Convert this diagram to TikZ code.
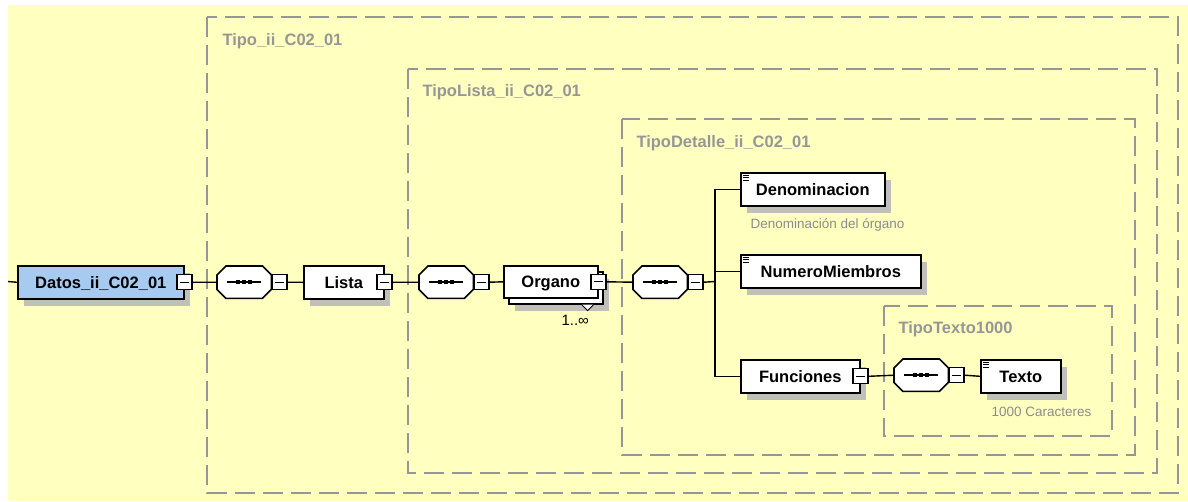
\documentclass[tikz,border=0pt]{standalone}
\usepackage{fontspec}
\setmainfont{Liberation Sans}
\usetikzlibrary{shadows,calc}

\definecolor{bgyellow}{RGB}{255,255,192}
\definecolor{boxblue}{RGB}{166,202,240}
\definecolor{dashgray}{RGB}{150,150,150}
\definecolor{shadowgray}{RGB}{192,192,184}
\definecolor{notegray}{RGB}{140,140,140}

\tikzset{
  shade box/.style={drop shadow={shadow xshift=6pt,shadow yshift=-7pt,fill=shadowgray,opacity=1}},
  box/.style={draw,line width=1.6pt,fill=white,rectangle,minimum height=33pt,anchor=north west,inner sep=0pt,
    text height=12pt,text depth=0pt,font=\fontsize{16.5}{18}\selectfont\bfseries},
  elem/.style={box,shade box},
  leaf/.style={elem,path picture={
      \foreach \k in {0,2.5,5}
        \draw[line width=0.9pt] ([xshift=2pt,yshift={-2.5pt-\k pt}]path picture bounding box.north west) -- ++(6.5pt,0);}},
  seqbox/.style={rectangle,minimum width=54pt,minimum height=32pt,inner sep=0pt,anchor=north west},
  fold/.style={draw,line width=1.3pt,fill=white,minimum size=15pt,inner sep=0pt,
    path picture={\draw[line width=1pt] ([xshift=-4.5pt]path picture bounding box.center) -- ([xshift=4.5pt]path picture bounding box.center);}},
  wire/.style={line width=1.4pt},
  group/.style={draw=dashgray,line width=1.5pt,dash pattern=on 20pt off 8pt},
  grouplabel/.style={anchor=base west,text=dashgray,font=\fontsize{16.5}{18}\selectfont\bfseries},
  note/.style={anchor=base west,text=notegray,font=\fontsize{13.5}{16}\selectfont}
}

\begin{document}
\begin{tikzpicture}[x=1pt,y=-1pt]
    \useasboundingbox (0,0) rectangle (1188,501);
    % Background
    \fill[bgyellow] (8,5) rectangle (1188,501);

    % Complex type groups
    \draw[group] (207,17) rectangle (1178,493);
    \draw[group] (408,69) rectangle (1157,473);
    \draw[group] (622,119) rectangle (1135,455);
    \draw[group] (884,306) rectangle (1112,436);
    \node[grouplabel] (tipo) at (219,45) {Tipo\_ii\_C02\_01};
    \node[grouplabel] (tipolista) at (419,96) {TipoLista\_ii\_C02\_01};
    \node[grouplabel] (tipodetalle) at (633,147) {TipoDetalle\_ii\_C02\_01};
    \node[grouplabel] (tipotexto) at (895,333) {TipoTexto1000};

    % Main row
    \node[elem,fill=boxblue,minimum width=166pt] (datos) at (17,265) {Datos\_ii\_C02\_01};
    \node[seqbox] (seq1) at (217,266) {};
    \node[elem,minimum width=80pt] (lista) at (303,265) {Lista};
    \node[seqbox] (seq2) at (419,266) {};
    \node[elem,minimum width=94pt,minimum height=32pt] (organo-back) at (508,271) {};
    \node[box,minimum width=94pt,minimum height=32pt] (organo) at (503,265) {Organo};
    \draw[line width=1pt,fill=white] ($(organo-back.south east)+(-22,0)$) -- ++(6,6) -- ++(6,-6);
    \node[anchor=base west,font=\fontsize{15}{17}\selectfont] (organo-occ) at (558,325) {1..∞};
    \node[seqbox] (seq3) at (633,266) {};

    % Children of Organo
    \node[leaf,minimum width=144pt] (denom) at (740,172) {Denominacion};
    \node[note] (denom-note) at (747,228) {Denominación del órgano};
    \node[leaf,minimum width=180pt] (numero) at (740,254) {NumeroMiembros};
    \node[elem,minimum width=119pt] (funciones) at (740,359) {Funciones};
    \node[seqbox] (seq4) at (894,359) {};
    \node[leaf,minimum width=80pt] (texto) at (980,359) {Texto};
    \node[note] (texto-note) at (988,416) {1000 Caracteres};

    % Sequence compositors
    \foreach \s in {seq1,seq2,seq3,seq4} {
        \fill[shadowgray,shift={(6,7)}] ($(\s.north west)+(9,0)$) -- ($(\s.north east)+(-9,0)$) -- ($(\s.north east)+(0,9)$)
            -- ($(\s.south east)+(0,-9)$) -- ($(\s.south east)+(-9,0)$) -- ($(\s.south west)+(9,0)$)
            -- ($(\s.south west)+(0,-9)$) -- ($(\s.north west)+(0,9)$) -- cycle;
        \draw[line width=1.6pt,fill=white] ($(\s.north west)+(9,0)$) -- ($(\s.north east)+(-9,0)$) -- ($(\s.north east)+(0,9)$)
            -- ($(\s.south east)+(0,-9)$) -- ($(\s.south east)+(-9,0)$) -- ($(\s.south west)+(9,0)$)
            -- ($(\s.south west)+(0,-9)$) -- ($(\s.north west)+(0,9)$) -- cycle;
        \draw[line width=1.5pt] ($(\s.center)+(-17,0)$) -- ($(\s.center)+(17,0)$);
        \foreach \d in {-6,0,6}
            \fill ($(\s.center)+(\d,0)$) +(-2,-2) rectangle +(2,2);
    }

    % Collapse buttons
    \node[fold] (datos-f) at (datos.east) {};
    \node[fold,anchor=west] (seq1-f) at (seq1.east) {};
    \node[fold] (lista-f) at (lista.east) {};
    \node[fold,anchor=west] (seq2-f) at (seq2.east) {};
    \node[fold] (organo-f) at (organo.east) {};
    \node[fold,anchor=west] (seq3-f) at (seq3.east) {};
    \node[fold] (funciones-f) at (funciones.east) {};
    \node[fold,anchor=west] (seq4-f) at (seq4.east) {};

    % Connectors
    \coordinate (start) at (8,281.5);
    \coordinate (fork) at (715,281.5);
    \draw[wire] (start) -- (datos.west);
    \draw[wire] (datos-f.east) -- (seq1.west);
    \draw[wire] (seq1-f.east) -- (lista.west);
    \draw[wire] (lista-f.east) -- (seq2.west);
    \draw[wire] (seq2-f.east) -- (organo.west);
    \draw[wire] (organo-f.east) -- (seq3.west);
    \draw[wire] (seq3-f.east) -- (fork);
    \draw[wire] (denom.west) -| (fork) |- (funciones.west);
    \draw[wire] (fork |- numero.west) -- (numero.west);
    \draw[wire] (funciones-f.east) -- (seq4.west);
    \draw[wire] (seq4-f.east) -- (texto.west);
\end{tikzpicture}
\end{document}
